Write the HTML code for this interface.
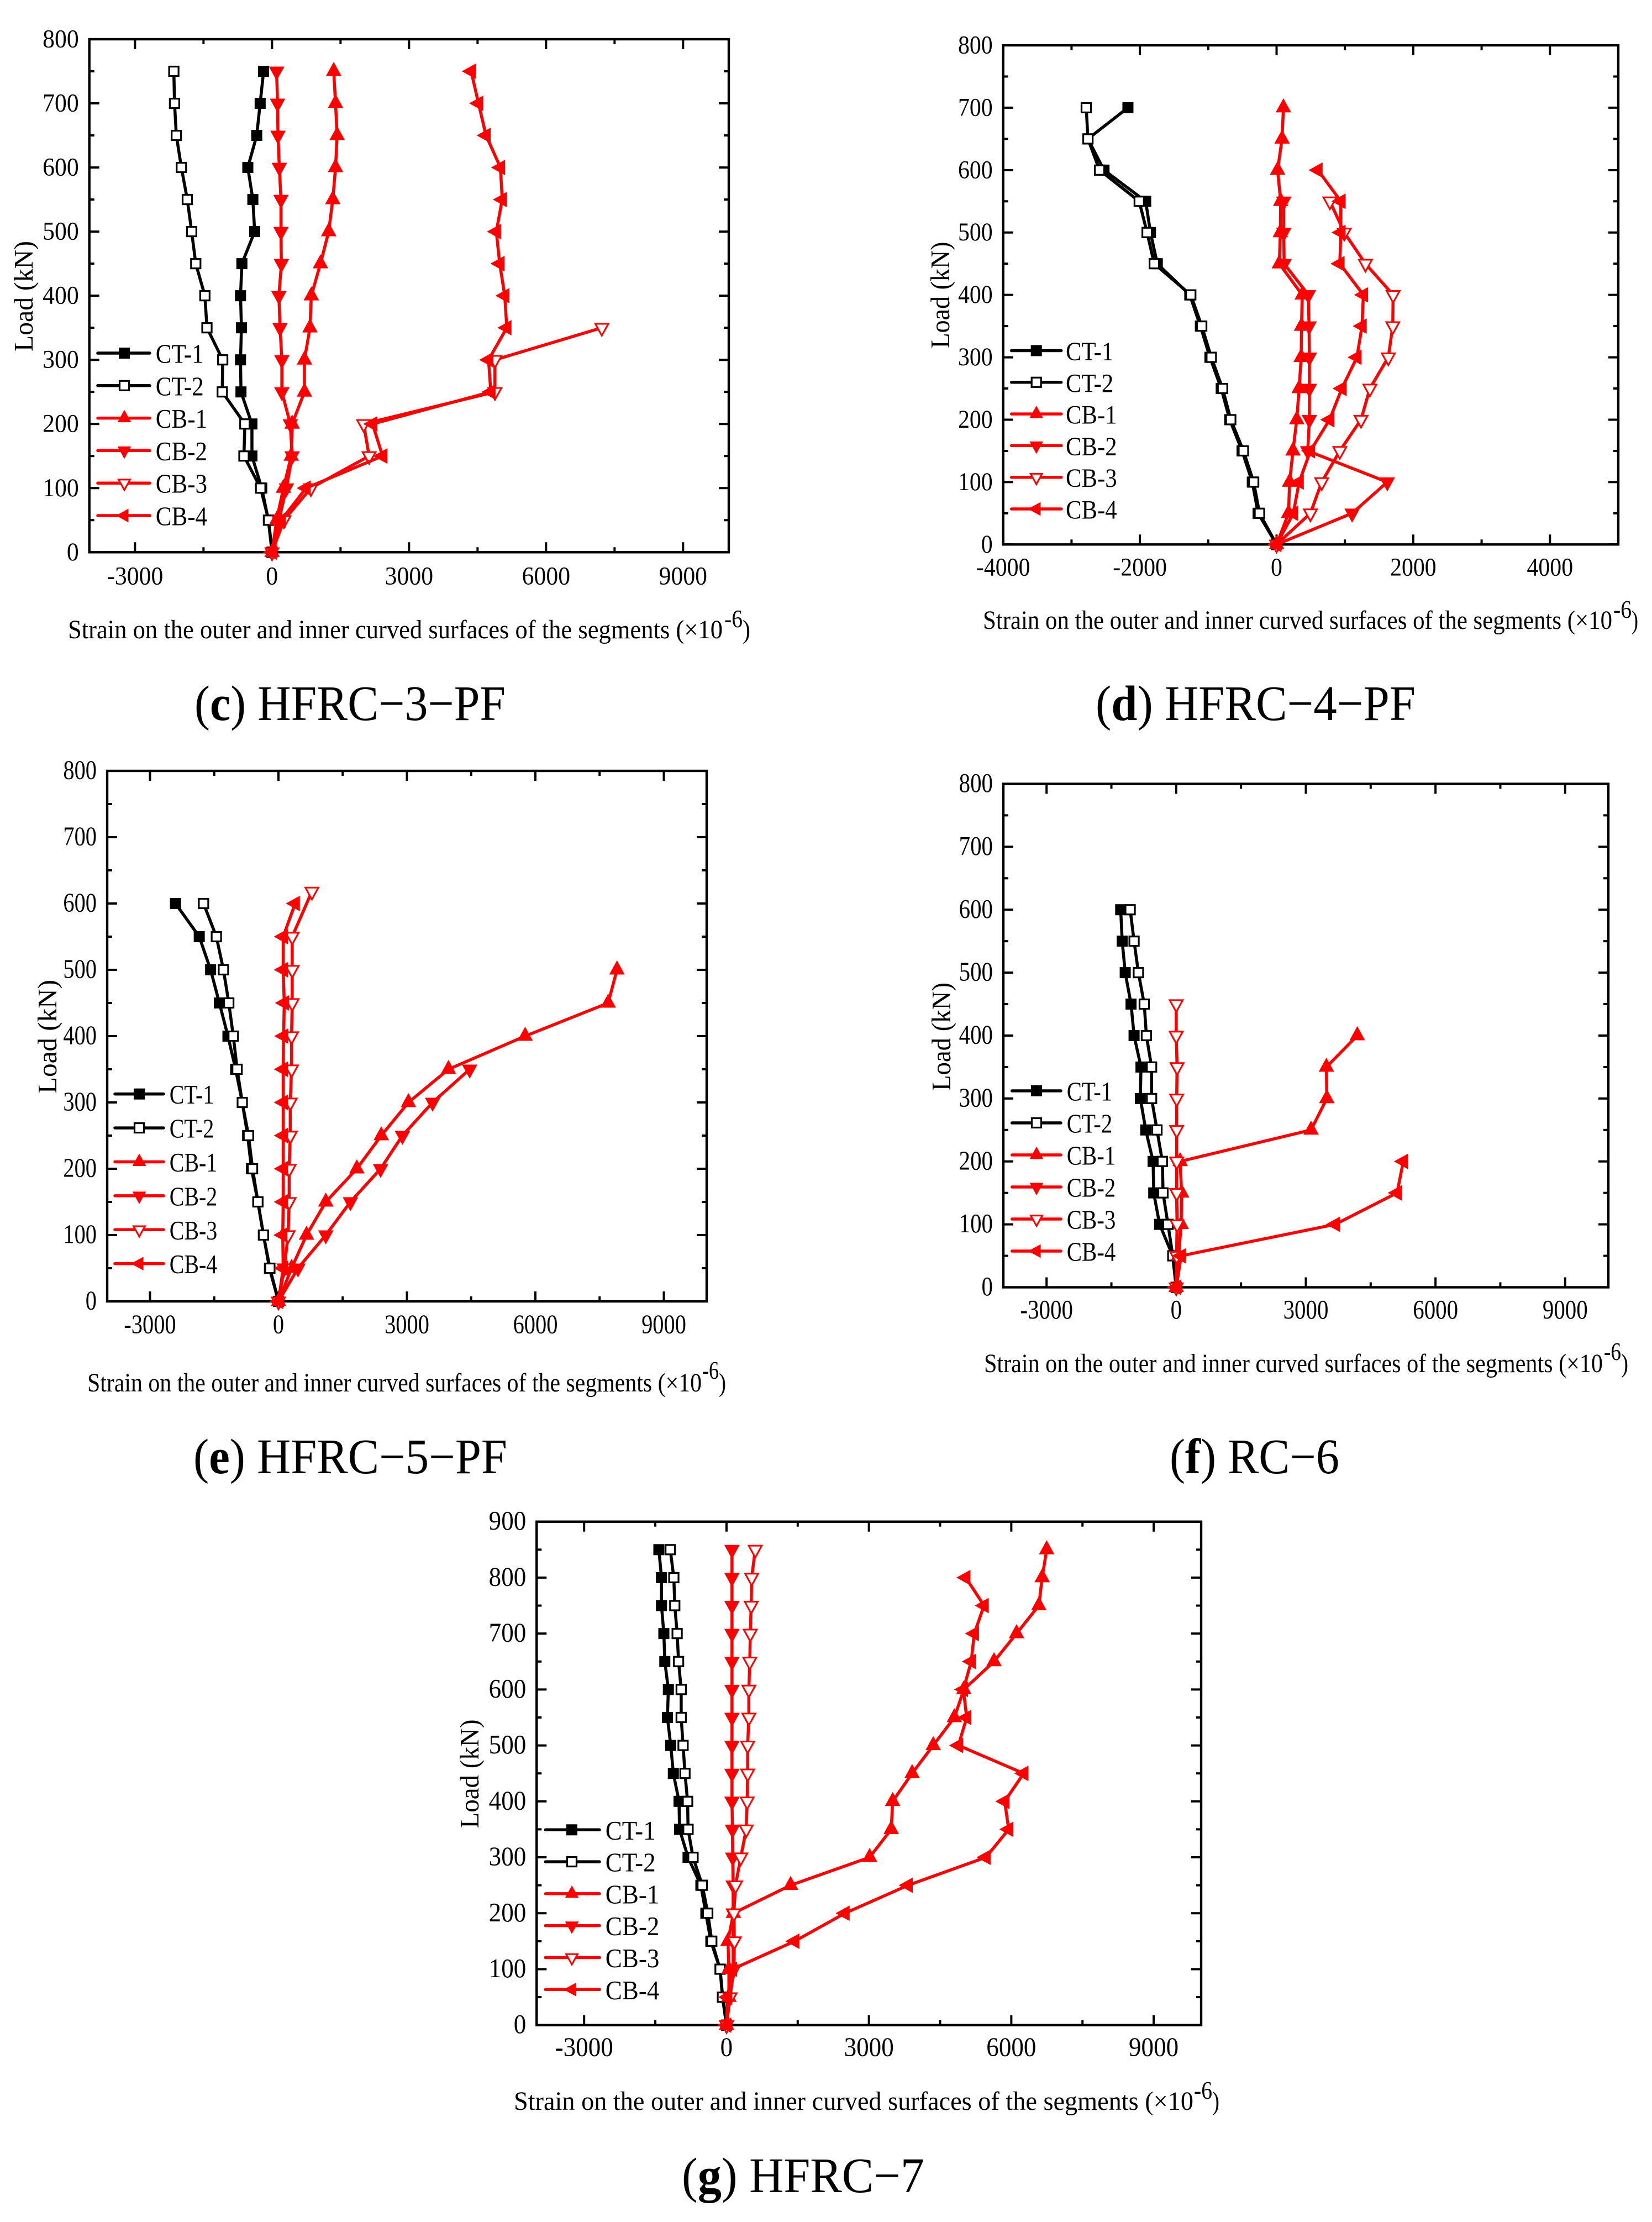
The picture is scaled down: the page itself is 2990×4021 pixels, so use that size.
<!DOCTYPE html>
<html lang="en">
<head>
<meta charset="utf-8">
<title>Load-strain curves of segments</title>
<style>
html,body{margin:0;padding:0;background:#fff;}
svg{display:block;}
text{font-family:"Liberation Serif",serif;fill:#000;}
</style>
</head>
<body>
<svg id="chart-sheet" xmlns="http://www.w3.org/2000/svg" width="2990" height="4021" viewBox="0 0 2990 4021">
<rect x="0" y="0" width="2990" height="4021" fill="#fff"/>

<g id="panel-c"></g>
<g id="panel-d"></g>
<g id="panel-e"></g>
<g id="panel-f"></g>
<g id="panel-g"></g>

<!-- y axis titles -->
<text transform="translate(59,536) rotate(-90)" text-anchor="middle" font-size="49" textLength="200" lengthAdjust="spacingAndGlyphs">Load (kN)</text>
<text transform="translate(1718,534) rotate(-90)" text-anchor="middle" font-size="49" textLength="193" lengthAdjust="spacingAndGlyphs">Load (kN)</text>
<text transform="translate(102,1876) rotate(-90)" text-anchor="middle" font-size="49" textLength="206" lengthAdjust="spacingAndGlyphs">Load (kN)</text>
<text transform="translate(1720,1876) rotate(-90)" text-anchor="middle" font-size="49" textLength="196" lengthAdjust="spacingAndGlyphs">Load (kN)</text>
<text transform="translate(866,3210) rotate(-90)" text-anchor="middle" font-size="49" textLength="197" lengthAdjust="spacingAndGlyphs">Load (kN)</text>

<!-- x axis titles -->
<g>
<text x="123" y="1155" font-size="48" textLength="1185" lengthAdjust="spacingAndGlyphs">Strain on the outer and inner curved surfaces of the segments (×10</text>
<text x="1311" y="1135" font-size="46" textLength="33" lengthAdjust="spacingAndGlyphs">-6</text>
<text x="1344" y="1155" font-size="48" textLength="14" lengthAdjust="spacingAndGlyphs">)</text>
</g>
<g>
<text x="1779" y="1138" font-size="48" textLength="1139" lengthAdjust="spacingAndGlyphs">Strain on the outer and inner curved surfaces of the segments (×10</text>
<text x="2920" y="1118" font-size="46" textLength="33" lengthAdjust="spacingAndGlyphs">-6</text>
<text x="2953" y="1138" font-size="48" textLength="12" lengthAdjust="spacingAndGlyphs">)</text>
</g>
<g>
<text x="158" y="2518" font-size="48" textLength="1112" lengthAdjust="spacingAndGlyphs">Strain on the outer and inner curved surfaces of the segments (×10</text>
<text x="1271" y="2495" font-size="46" textLength="30" lengthAdjust="spacingAndGlyphs">-6</text>
<text x="1301" y="2518" font-size="48" textLength="13" lengthAdjust="spacingAndGlyphs">)</text>
</g>
<g>
<text x="1781" y="2483" font-size="48" textLength="1120" lengthAdjust="spacingAndGlyphs">Strain on the outer and inner curved surfaces of the segments (×10</text>
<text x="2903" y="2461" font-size="46" textLength="31" lengthAdjust="spacingAndGlyphs">-6</text>
<text x="2934" y="2483" font-size="48" textLength="13" lengthAdjust="spacingAndGlyphs">)</text>
</g>
<g>
<text x="930" y="3818" font-size="48" textLength="1230" lengthAdjust="spacingAndGlyphs">Strain on the outer and inner curved surfaces of the segments (×10</text>
<text x="2161" y="3798" font-size="46" textLength="33" lengthAdjust="spacingAndGlyphs">-6</text>
<text x="2194" y="3818" font-size="48" textLength="13" lengthAdjust="spacingAndGlyphs">)</text>
</g>

<!-- captions -->
<text x="352" y="1303" font-size="90" textLength="563" lengthAdjust="spacingAndGlyphs">(<tspan font-weight="bold">c</tspan>) HFRC−3−PF</text>
<text x="1983" y="1303" font-size="90" textLength="579" lengthAdjust="spacingAndGlyphs">(<tspan font-weight="bold">d</tspan>) HFRC−4−PF</text>
<text x="350" y="2666" font-size="90" textLength="568" lengthAdjust="spacingAndGlyphs">(<tspan font-weight="bold">e</tspan>) HFRC−5−PF</text>
<text x="2117" y="2666" font-size="90" textLength="307" lengthAdjust="spacingAndGlyphs">(<tspan font-weight="bold">f</tspan>) RC−6</text>
<text x="1234" y="3967" font-size="90" textLength="439" lengthAdjust="spacingAndGlyphs">(<tspan font-weight="bold">g</tspan>) HFRC−7</text>
</svg>

<script>
// ---------- data: loads (kN) and strains (x10^-6) ----------
const seriesNames = ['CT-1', 'CT-2', 'CB-1', 'CB-2', 'CB-3', 'CB-4'];

// Panel c
const cLoads = [0, 50, 100, 150, 200, 250, 300, 350, 400, 450, 500, 550, 600, 650, 700, 750];
const cCT1 = [0, -80, -225, -440, -440, -680, -690, -670, -690, -660, -380, -420, -530, -335, -260, -185];
const cCT2 = [0, -75, -250, -615, -595, -1090, -1080, -1425, -1470, -1670, -1760, -1855, -1985, -2095, -2135, -2150];
const cCB1 = [0, 100, 250, 420, 440, 710, 710, 830, 860, 1060, 1240, 1330, 1390, 1425, 1390, 1350];
const cCB2 = [0, 150, 315, 440, 400, 215, 215, 175, 150, 205, 195, 195, 160, 130, 120, 100];
const cCB3 = [0, 260, 850, 2125, 2005, 4880, 4880, 7220];
const cCB4 = [0, 200, 745, 2420, 2200, 4790, 4740, 5140, 5095, 4985, 4910, 5040, 5000, 4685, 4520, 4360];
const cXTicks = [-3000, 0, 3000, 6000, 9000];
const cYTicks = [0, 100, 200, 300, 400, 500, 600, 700, 800];

// Panel d
const dLoads = [0, 50, 100, 150, 200, 250, 300, 350, 400, 450, 500, 550, 600, 650, 700];
const dCT1 = [0, -270, -355, -505, -685, -810, -975, -1115, -1270, -1745, -1845, -1915, -2525, -2760, -2175];
const dCT2 = [0, -250, -335, -485, -670, -790, -955, -1095, -1255, -1790, -1895, -2010, -2590, -2760, -2785];
const dCB1 = [0, 175, 190, 240, 295, 330, 360, 365, 375, 40, 55, 60, 15, 80, 100];
const dCB2 = [0, 1105, 1620, 455, 480, 480, 480, 475, 465, 110, 105, 105];
const dCB3 = [0, 495, 660, 925, 1235, 1365, 1635, 1700, 1705, 1300, 990, 780];
const dCB4 = [0, 245, 330, 495, 775, 955, 1175, 1250, 1270, 925, 940, 940, 605];
const dXTicks = [-4000, -2000, 0, 2000, 4000];
const dYTicks = [0, 100, 200, 300, 400, 500, 600, 700, 800];

// Panel e
const eLoads = [0, 50, 100, 150, 200, 250, 300, 350, 400, 450, 500, 550, 600];
const eCB3Loads = [0, 50, 100, 150, 200, 250, 300, 350, 400, 450, 500, 550, 618];
const eCT1 = [0, -210, -350, -480, -630, -720, -845, -1000, -1180, -1380, -1585, -1850, -2405];
const eCT2 = [0, -200, -350, -480, -605, -700, -845, -965, -1055, -1160, -1285, -1450, -1750];
const eCB1 = [0, 305, 655, 1105, 1830, 2400, 3035, 3970, 5760, 7700, 7905];
const eCB2 = [0, 455, 1105, 1680, 2385, 2895, 3600, 4465];
const eCB3 = [0, 135, 225, 250, 250, 275, 275, 305, 305, 320, 320, 320, 780];
const eCB4 = [0, 110, 100, 110, 110, 110, 110, 110, 120, 135, 110, 110, 390];
const eXTicks = [-3000, 0, 3000, 6000, 9000];
const eYTicks = [0, 100, 200, 300, 400, 500, 600, 700, 800];

// Panel f
const fLoads = [0, 50, 100, 150, 200, 250, 300, 350, 400, 450, 500, 550, 600];
const fCT1 = [0, -80, -385, -520, -535, -705, -830, -815, -975, -1045, -1180, -1250, -1285];
const fCT2 = [0, -80, -190, -305, -320, -445, -570, -570, -690, -740, -875, -975, -1065];
const fCB1 = [0, 55, 115, 125, 90, 3120, 3485, 3475, 4190];
const fCB2 = [0, 10, 20, 10, 10];
const fCB3 = [0, 10, 20, 10, 10, 10, 10, 20, 0, 0];
const fCB4 = [0, 115, 3680, 5110, 5255];
const fXTicks = [-3000, 0, 3000, 6000, 9000];
const fYTicks = [0, 100, 200, 300, 400, 500, 600, 700, 800];

// Panel g
const gLoads = [0, 50, 100, 150, 200, 250, 300, 350, 400, 450, 500, 550, 600, 650, 700, 750, 800, 850];
const gCT1 = [0, -80, -135, -330, -435, -540, -810, -990, -1000, -1120, -1175, -1245, -1225, -1300, -1320, -1370, -1370, -1425];
const gCT2 = [0, -85, -135, -310, -395, -510, -705, -810, -820, -875, -915, -955, -955, -1010, -1040, -1090, -1110, -1185];
const gCB1 = [0, 50, 50, 30, 145, 1350, 3015, 3470, 3500, 3910, 4355, 4800, 5000, 5635, 6110, 6580, 6650, 6745];
const gCB2 = [0, 70, 140, 140, 140, 140, 130, 125, 115, 115, 115, 115, 115, 115, 115, 115, 115, 115];
const gCB3 = [0, 75, 155, 165, 155, 190, 300, 415, 435, 445, 445, 470, 470, 490, 500, 520, 530, 605];
const gCB4 = [0, 20, 125, 1435, 2495, 3825, 5465, 5945, 5860, 6260, 4885, 5060, 4990, 5155, 5220, 5425, 5040];
const gXTicks = [-3000, 0, 3000, 6000, 9000];
const gYTicks = [0, 100, 200, 300, 400, 500, 600, 700, 800, 900];

// ---------- panel wiring ----------
const panelData = {
  c: { loads: [cLoads, cLoads, cLoads, cLoads, cLoads, cLoads], strains: [cCT1, cCT2, cCB1, cCB2, cCB3, cCB4], xTicks: cXTicks, yTicks: cYTicks },
  d: { loads: [dLoads, dLoads, dLoads, dLoads, dLoads, dLoads], strains: [dCT1, dCT2, dCB1, dCB2, dCB3, dCB4], xTicks: dXTicks, yTicks: dYTicks },
  e: { loads: [eLoads, eLoads, eLoads, eLoads, eCB3Loads, eLoads], strains: [eCT1, eCT2, eCB1, eCB2, eCB3, eCB4], xTicks: eXTicks, yTicks: eYTicks },
  f: { loads: [fLoads, fLoads, fLoads, fLoads, fLoads, fLoads], strains: [fCT1, fCT2, fCB1, fCB2, fCB3, fCB4], xTicks: fXTicks, yTicks: fYTicks },
  g: { loads: [gLoads, gLoads, gLoads, gLoads, gLoads, gLoads], strains: [gCT1, gCT2, gCB1, gCB2, gCB3, gCB4], xTicks: gXTicks, yTicks: gYTicks }
};

// ---------- layout (frame geometry, not data) ----------
const layouts = {
  c: { left: 161.7, right: 1319, top: 71, bottom: 999.3, xMin: -4000, xMax: 10000, yMax: 800, xStep: 3000, tickFont: 47, tickSx: 0.93, xBase: 58, legFont: 49, legSx: 0.88, legL: 177, legR: 271, legM: 225, legT: 281.7, legY: 639, legDy: 58.8 },
  d: { left: 1815.7, right: 2929, top: 82, bottom: 985.3, xMin: -4000, xMax: 5000, yMax: 800, xStep: 2000, tickFont: 47, tickSx: 0.89, xBase: 56, legFont: 48, legSx: 0.89, legL: 1830.7, legR: 1920.7, legM: 1875.7, legT: 1929, legY: 634.5, legDy: 57.3 },
  e: { left: 194, right: 1279, top: 1395, bottom: 2355, xMin: -4000, xMax: 10000, yMax: 800, xStep: 3000, tickFont: 49, tickSx: 0.825, xBase: 57.5, legFont: 49, legSx: 0.815, legL: 208, legR: 296, legM: 252, legT: 306.7, legY: 1979.7, legDy: 61.4 },
  f: { left: 1816, right: 2911, top: 1418.5, bottom: 2329.5, xMin: -4000, xMax: 10000, yMax: 800, xStep: 3000, tickFont: 49, tickSx: 0.835, xBase: 56.4, legFont: 49, legSx: 0.835, legL: 1831.7, legR: 1920, legM: 1876, legT: 1930.7, legY: 1974, legDy: 58 },
  g: { left: 971.3, right: 2174, top: 2753.7, bottom: 3664.7, xMin: -4000, xMax: 10000, yMax: 900, xStep: 3000, tickFont: 49, tickSx: 0.92, xBase: 56, legFont: 49, legSx: 0.92, legL: 987.3, legR: 1085, legM: 1035, legT: 1095.7, legY: 3311.3, legDy: 57.8 }
};

const seriesColor = ['#000000', '#000000', '#ff0000', '#ff0000', '#ff0000', '#ff0000'];
const seriesShape = ['square', 'square', 'up', 'down', 'down', 'left'];
const seriesOpen = [false, true, false, false, true, false];

const NS = 'http://www.w3.org/2000/svg';
function make(tag, attrs, parent) {
  const el = document.createElementNS(NS, tag);
  for (const k in attrs) el.setAttribute(k, attrs[k]);
  parent.appendChild(el);
  return el;
}

function markerShape(i, x, y, parent, size) {
  const shape = seriesShape[i];
  const open = seriesOpen[i];
  const color = seriesColor[i];
  const fill = open ? '#ffffff' : color;
  if (shape === 'square') {
    const s = open ? 8.5 : 10;
    return make('rect', { x: x - s, y: y - s, width: 2 * s, height: 2 * s, fill: fill, stroke: color, 'stroke-width': open ? 3.2 : 0 }, parent);
  }
  let pts;
  const inset = (open ? 0.84 : 1) * size;
  const a = 17 * inset, b = 8.5 * inset, h = 14 * inset;
  if (shape === 'up') pts = [[x, y - a], [x + h, y + b], [x - h, y + b]];
  if (shape === 'down') pts = [[x, y + a], [x + h, y - b], [x - h, y - b]];
  if (shape === 'left') pts = [[x - a, y], [x + b, y - h], [x + b, y + h]];
  return make('polygon', { points: pts.map(function (p) { return p.join(','); }).join(' '), fill: fill, stroke: color, 'stroke-width': open ? 3 : 0, 'stroke-linejoin': 'miter' }, parent);
}

function drawPanel(key) {
  const L = layouts[key];
  const D = panelData[key];
  const root = document.getElementById('panel-' + key);
  const xScale = function (v) { return L.left + (v - L.xMin) / (L.xMax - L.xMin) * (L.right - L.left); };
  const yScale = function (v) { return L.bottom - v / L.yMax * (L.bottom - L.top); };

  // frame
  const frame = make('rect', { x: L.left, y: L.top, width: L.right - L.left, height: L.bottom - L.top, fill: 'none', stroke: '#000', 'stroke-width': 4.4 }, root);
  
  

  // x ticks
  const xAxis = make('g', {}, root);
  
  
  D.xTicks.forEach(function (v) {
    const px = xScale(v);
    make('line', { x1: px, x2: px, y1: L.bottom, y2: L.bottom - 18, stroke: '#000', 'stroke-width': 4 }, xAxis);
    make('line', { x1: px, x2: px, y1: L.top, y2: L.top + 18, stroke: '#000', 'stroke-width': 4 }, xAxis);
    const mid = xScale(v + L.xStep / 2);
    if (mid < L.right - 2) {
      make('line', { x1: mid, x2: mid, y1: L.bottom, y2: L.bottom - 9, stroke: '#000', 'stroke-width': 4 }, xAxis);
      make('line', { x1: mid, x2: mid, y1: L.top, y2: L.top + 9, stroke: '#000', 'stroke-width': 4 }, xAxis);
    }
    const label = make('text', { transform: 'translate(' + px + ',' + (L.bottom + L.xBase) + ') scale(' + L.tickSx + ',1)', 'text-anchor': 'middle', 'font-size': L.tickFont }, xAxis);
    
    
    label.textContent = String(v);
  });
  // minor tick before the first major, where it fits on the axis
  const before = D.xTicks[0] - L.xStep / 2;
  if (before > L.xMin) {
    make('line', { x1: xScale(before), x2: xScale(before), y1: L.bottom, y2: L.bottom - 9, stroke: '#000', 'stroke-width': 4 }, xAxis);
    make('line', { x1: xScale(before), x2: xScale(before), y1: L.top, y2: L.top + 9, stroke: '#000', 'stroke-width': 4 }, xAxis);
  }

  // y ticks
  const yAxis = make('g', {}, root);
  
  
  D.yTicks.forEach(function (v) {
    const py = yScale(v);
    make('line', { x1: L.left, x2: L.left + 18, y1: py, y2: py, stroke: '#000', 'stroke-width': 4 }, yAxis);
    make('line', { x1: L.right, x2: L.right - 18, y1: py, y2: py, stroke: '#000', 'stroke-width': 4 }, yAxis);
    if (v < L.yMax) {
      const m = yScale(v + 50);
      make('line', { x1: L.left, x2: L.left + 9, y1: m, y2: m, stroke: '#000', 'stroke-width': 4 }, yAxis);
      make('line', { x1: L.right, x2: L.right - 9, y1: m, y2: m, stroke: '#000', 'stroke-width': 4 }, yAxis);
    }
    const label = make('text', { transform: 'translate(' + (L.left - 19) + ',' + (py + 14.5) + ') scale(' + L.tickSx + ',1)', 'text-anchor': 'end', 'font-size': L.tickFont }, yAxis);
    
    
    label.textContent = String(v);
  });

  // series
  seriesNames.forEach(function (name, i) {
    const strains = D.strains[i];
    const loads = D.loads[i];
    const group = make('g', {}, root);
    
    
    const pts = strains.map(function (s, k) { return xScale(s) + ',' + yScale(loads[k]); }).join(' ');
    const line = make('polyline', { points: pts, fill: 'none', stroke: seriesColor[i], 'stroke-width': 5.5, 'stroke-linejoin': 'miter' }, group);
    
    
    strains.forEach(function (s, k) {
      const mark = markerShape(i, xScale(s), yScale(loads[k]), group, 1);
      
      
    });
  });

  // legend
  const legend = make('g', {}, root);
  
  
  seriesNames.forEach(function (name, i) {
    const y = L.legY + i * L.legDy;
    const entry = make('g', {}, legend);
    
    
    make('line', { x1: L.legL, x2: L.legR, y1: y, y2: y, stroke: seriesColor[i], 'stroke-width': 5.5, 'stroke-linecap': 'round' }, entry);
    markerShape(i, L.legM, y, entry, 0.88);
    const label = make('text', { transform: 'translate(' + L.legT + ',' + (y + 17.5) + ') scale(' + L.legSx + ',1)', 'font-size': L.legFont }, entry);
    
    
    label.textContent = name;
  });
}

['c', 'd', 'e', 'f', 'g'].forEach(drawPanel);
</script>
</body>
</html>
